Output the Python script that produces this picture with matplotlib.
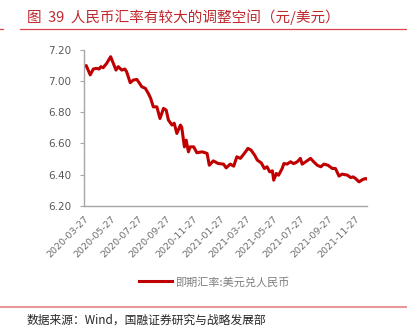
import matplotlib
matplotlib.use("Agg")
import matplotlib.pyplot as plt
import matplotlib.dates as mdates
import pandas as pd

plt.rcParams['font.family'] = ['Noto Sans CJK SC', 'DejaVu Sans']

# USD/CNY spot rate (CNY per USD)
dates = [
    "2020-03-27", "2020-04-01", "2020-04-10", "2020-04-17", "2020-04-24", "2020-04-30",
    "2020-05-04", "2020-05-09", "2020-05-17", "2020-05-26", "2020-06-01", "2020-06-07",
    "2020-06-12", "2020-06-20", "2020-06-27", "2020-07-01", "2020-07-09", "2020-07-16",
    "2020-07-24", "2020-07-30", "2020-08-04", "2020-08-12", "2020-08-19", "2020-08-24",
    "2020-08-30", "2020-09-07", "2020-09-14", "2020-09-22", "2020-09-28", "2020-10-03",
    "2020-10-11", "2020-10-16", "2020-10-22", "2020-10-30", "2020-11-02", "2020-11-08",
    "2020-11-12", "2020-11-17", "2020-11-21", "2020-11-29", "2020-12-06", "2020-12-18",
    "2020-12-29", "2021-01-03", "2021-01-12", "2021-01-23", "2021-02-04", "2021-02-10",
    "2021-02-19", "2021-02-27", "2021-03-06", "2021-03-14", "2021-03-23", "2021-03-31",
    "2021-04-07", "2021-04-15", "2021-04-21", "2021-04-30", "2021-05-07", "2021-05-13",
    "2021-05-19", "2021-05-25", "2021-05-28", "2021-06-03", "2021-06-08", "2021-06-16",
    "2021-06-20", "2021-06-27", "2021-07-05", "2021-07-12", "2021-07-20", "2021-07-27",
    "2021-07-31", "2021-08-08", "2021-08-19", "2021-08-26", "2021-09-03", "2021-09-11",
    "2021-09-18", "2021-09-27", "2021-10-07", "2021-10-14", "2021-10-22", "2021-10-29",
    "2021-11-10", "2021-11-17", "2021-11-23", "2021-11-28", "2021-12-06", "2021-12-14",
    "2021-12-21", "2021-12-24",
]
usdcny = [
    7.093, 7.100, 7.040, 7.078, 7.082, 7.078,
    7.093, 7.086, 7.114, 7.157, 7.114, 7.071,
    7.093, 7.071, 7.078, 7.060, 6.990, 7.007,
    7.011, 6.986, 6.964, 6.954, 6.920, 6.890,
    6.835, 6.835, 6.760, 6.825, 6.814, 6.750,
    6.718, 6.730, 6.664, 6.718, 6.703, 6.578,
    6.621, 6.546, 6.578, 6.578, 6.540, 6.546,
    6.536, 6.460, 6.488, 6.471, 6.467, 6.443,
    6.467, 6.454, 6.514, 6.504, 6.536, 6.568,
    6.557, 6.525, 6.493, 6.475, 6.439, 6.450,
    6.417, 6.424, 6.364, 6.407, 6.396, 6.439,
    6.471, 6.467, 6.482, 6.470, 6.482, 6.504,
    6.467, 6.482, 6.504, 6.482, 6.460, 6.450,
    6.467, 6.460, 6.439, 6.439, 6.390, 6.403,
    6.396, 6.381, 6.385, 6.375, 6.353, 6.368,
    6.375, 6.371,
]
tick_dates = [
    "2020-03-27", "2020-05-27", "2020-07-27", "2020-09-27", "2020-11-27", "2021-01-27",
    "2021-03-27", "2021-05-27", "2021-07-27", "2021-09-27", "2021-11-27",
]
y_ticks = [6.20, 6.40, 6.60, 6.80, 7.00, 7.20]

title = "图  39  人民币汇率有较大的调整空间（元/美元）"
series_name = "即期汇率:美元兑人民币"
source = "数据来源：Wind，国融证券研究与战略发展部"

W, H = 407, 336
fig = plt.figure(figsize=(W / 100, H / 100), dpi=100)
fig.patch.set_facecolor("white")

def px(x0, y0, x1, y1):
    return [x0 / W, 1 - y1 / H, (x1 - x0) / W, (y1 - y0) / H]

ax = fig.add_axes(px(84, 50, 367, 205.7))
x = pd.to_datetime(dates)
ax.plot(x, usdcny, color="#C00000", lw=2.2, solid_joinstyle="round")

ax.set_ylim(6.20, 7.20)
ax.set_yticks(y_ticks)
ax.set_yticklabels([f"{v:.2f}" for v in y_ticks])
ax.set_xlim(x[0], x[-1])
ax.set_xticks(pd.to_datetime(tick_dates))
ax.xaxis.set_major_formatter(mdates.DateFormatter("%Y-%m-%d"))
for lab in ax.get_xticklabels():
    lab.set_rotation(45)
    lab.set_ha("right")
    lab.set_rotation_mode("anchor")

for s in ("top", "right"):
    ax.spines[s].set_visible(False)
for s in ("left", "bottom"):
    ax.spines[s].set_color("#A6A6A6")
    ax.spines[s].set_linewidth(1.0)
ax.tick_params(axis="y", direction="out", length=3, color="#A6A6A6",
               labelsize=7.5, labelcolor="#595959", pad=6)
ax.tick_params(axis="x", length=0, labelsize=6.8, labelcolor="#6E6E6E", pad=6)
for lab in ax.get_yticklabels() + ax.get_xticklabels():
    lab.set_family("DejaVu Sans")

# legend
leg = fig.legend([ax.lines[0]], [series_name], loc="center left",
                 bbox_to_anchor=(129 / W, 1 - 282 / H), frameon=False,
                 handlelength=3.0, handletextpad=0.3, fontsize=8)
for t in leg.get_texts():
    t.set_color("#7F7F7F")

# header and footer
fig.text(27 / W, 1 - 17 / H, title, color="#C0282D", fontsize=10.5,
         ha="left", va="center")
fig.add_artist(plt.Line2D([20 / W, 1], [1 - 29 / H] * 2, color="#D9454A", lw=0.9))
fig.add_artist(plt.Line2D([0, 3 / W], [1 - 29 / H] * 2, color="#D9454A", lw=0.9))
fig.add_artist(plt.Line2D([0, 1], [1 - 306.5 / H] * 2, color="#E8979A", lw=1.5))
fig.text(27 / W, 1 - 320 / H, source, color="#262626", fontsize=8.5,
         ha="left", va="center")

fig.savefig("out.png", dpi=100, facecolor="white")
